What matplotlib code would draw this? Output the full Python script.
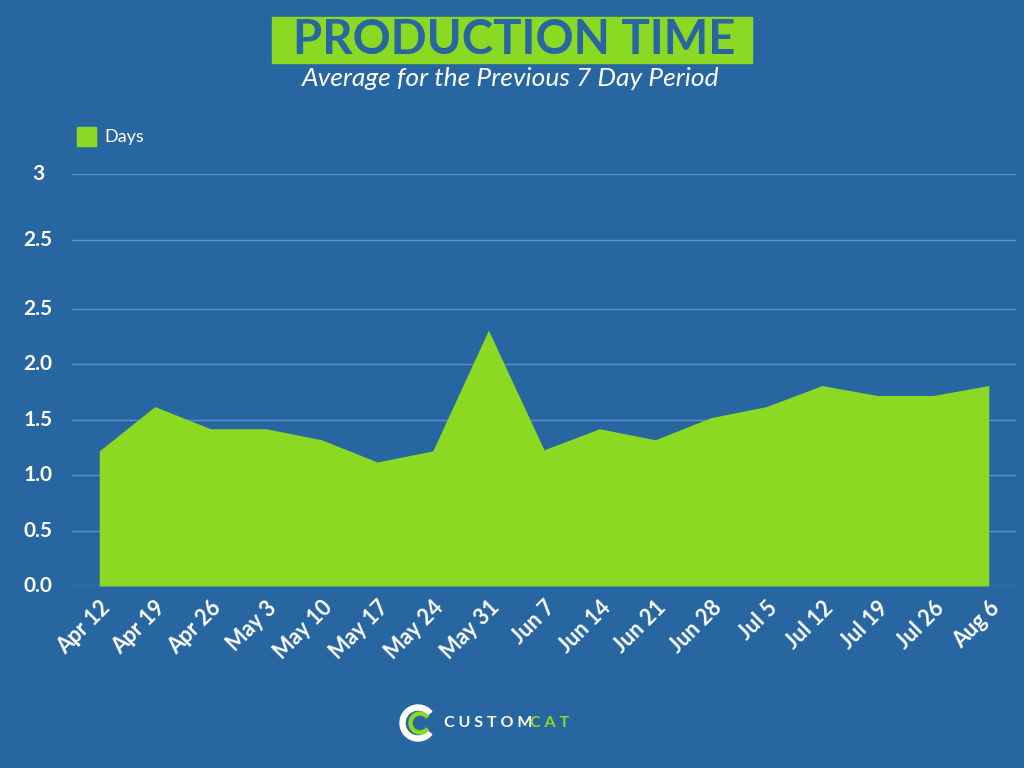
import matplotlib
matplotlib.use("Agg")
import matplotlib.pyplot as plt
import matplotlib.transforms as mtransforms
from matplotlib.patches import Rectangle, Wedge

# chart data
weeks = ["Apr 12", "Apr 19", "Apr 26", "May 3", "May 10", "May 17", "May 24",
         "May 31", "Jun 7", "Jun 14", "Jun 21", "Jun 28", "Jul 5", "Jul 12",
         "Jul 19", "Jul 26", "Aug 6"]
days = [1.22, 1.62, 1.42, 1.42, 1.32, 1.12, 1.22, 2.31, 1.23, 1.42, 1.32,
        1.52, 1.62, 1.81, 1.72, 1.72, 1.81]
y_ticks = [0.0, 0.5, 1.0, 1.5, 2.0, 2.5, 3.125, 3.72]
y_tick_labels = ["0.0", "0.5", "1.0", "1.5", "2.0", "2.5", "2.5", "3"]

BG = "#2866A1"
GREEN = "#8BD923"
GRID = "#5C91C6"

plt.rcParams["font.family"] = ["Lato", "DejaVu Sans"]

fig = plt.figure(figsize=(10.24, 7.68), dpi=100, facecolor=BG)
ax = fig.add_axes([72 / 1024, 1 - 586 / 768, 944 / 1024, 412 / 768])
ax.set_facecolor(BG)

x = list(range(len(weeks)))
ax.fill_between(x, 0, days, color=GREEN, lw=0, zorder=2)

ax.set_xlim(-0.49, len(weeks) - 0.51)
ax.set_ylim(0, 3.72)
ax.set_yticks(y_ticks)
ax.set_yticklabels([])
ax.tick_params(axis="y", length=0)
ax.tick_params(axis="x", length=0, pad=8, labelsize=15.5, labelcolor="white")
ax.set_xticks(x)
ax.set_xticklabels(weeks, rotation=45, ha="right", rotation_mode="anchor",
                   fontweight="bold")
ax.grid(axis="y", color=GRID, lw=1, zorder=1)
ax.set_axisbelow(True)
for s in ax.spines.values():
    s.set_visible(False)

# y labels centred in the left margin
trans = mtransforms.blended_transform_factory(fig.transFigure, ax.transData)
for val, lab in zip(y_ticks, y_tick_labels):
    fig.text(38 / 1024, val, lab, transform=trans, color="white", fontsize=15,
             fontweight="bold", ha="center", va="center")

# legend
fig.patches.append(Rectangle((77 / 1024, 1 - 146 / 768), 19 / 1024, 19 / 768,
                             transform=fig.transFigure, color=GREEN))
fig.text(104 / 1024, 1 - 137 / 768, "Days", color="white", fontsize=13,
         va="center", ha="left")

# title block
fig.patches.append(Rectangle((272 / 1024, 1 - 63 / 768), 480 / 1024, 46 / 768,
                             transform=fig.transFigure, color=GREEN))
fig.text(514 / 1024, 1 - 40 / 768, "PRODUCTION TIME", color=BG, fontsize=34,
         fontweight="bold", ha="center", va="center")
fig.text(511 / 1024, 1 - 79 / 768, "Average for the Previous 7 Day Period",
         color="white", fontsize=19, style="italic", ha="center", va="center")

# logo
cy = 1 - 723 / 768
fig.patches.append(Wedge((418, 768 - 723), 18, 40, 320, width=5,
                         transform=None, color="white"))
fig.patches.append(Wedge((420, 768 - 723), 11, 40, 320, width=3,
                         transform=None, color=GREEN))
fig.text(444 / 1024, cy, "C U S T O M", color="white", fontsize=11.5,
         fontweight="bold", ha="left", va="center")
fig.text(530 / 1024, cy, "C A T", color=GREEN, fontsize=11.5,
         fontweight="bold", ha="left", va="center")

fig.savefig("out.png", dpi=100, facecolor=BG)
